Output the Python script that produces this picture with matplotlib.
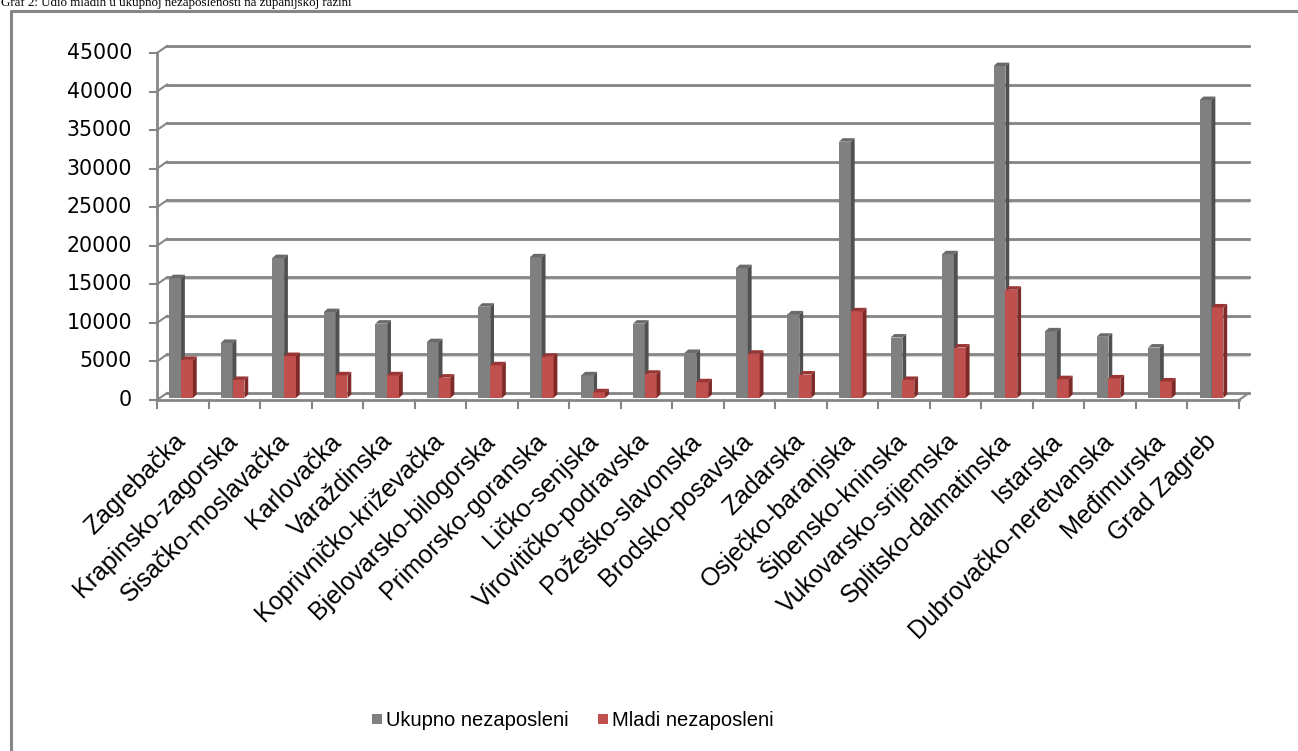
import matplotlib
matplotlib.use("Agg")
import matplotlib.pyplot as plt
from matplotlib.patches import Polygon, Rectangle
from matplotlib.lines import Line2D

categories = ["Zagrebačka", "Krapinsko-zagorska", "Sisačko-moslavačka", "Karlovačka",
              "Varaždinska", "Koprivničko-križevačka", "Bjelovarsko-bilogorska",
              "Primorsko-goranska", "Ličko-senjska", "Virovitičko-podravska",
              "Požeško-slavonska", "Brodsko-posavska", "Zadarska", "Osječko-baranjska",
              "Šibensko-kninska", "Vukovarsko-srijemska", "Splitsko-dalmatinska",
              "Istarska", "Dubrovačko-neretvanska", "Međimurska", "Grad Zagreb"]
ukupno = [15800, 7400, 18400, 11400, 9900, 7500, 12100, 18500, 3200, 9900, 6100,
          17100, 11100, 33500, 8100, 18900, 43300, 8900, 8200, 6800, 38900]
mladi = [5200, 2600, 5700, 3200, 3200, 2900, 4500, 5600, 1000, 3400, 2300,
         6000, 3300, 11500, 2600, 6800, 14300, 2700, 2800, 2400, 12000]
yticks = [0, 5000, 10000, 15000, 20000, 25000, 30000, 35000, 40000, 45000]
series_names = ["Ukupno nezaposleni", "Mladi nezaposleni"]
title = "Graf 2: Udio mladih u ukupnoj nezaposlenosti na županijskoj razini"

W, H = 1298, 751
fig = plt.figure(figsize=(W / 100, H / 100), dpi=100)

def fx(px):
    return px / W

def fy(py):
    return 1 - py / H

# frame border
fig.add_artist(Line2D([fx(11), fx(11), fx(1298)], [fy(760), fy(11), fy(11)],
                      color="#868686", lw=2.2, transform=fig.transFigure))
fig.text(fx(1), fy(6), title, family="Liberation Serif", fontsize=9.4,
         ha="left", va="baseline", color="black")

ax_l, ax_r, ax_t, ax_b = 157, 1239, 53, 400
ax = fig.add_axes([fx(ax_l), fy(ax_b), fx(ax_r - ax_l), (ax_b - ax_t) / H])
n = len(categories)
ax.set_xlim(-0.5, n - 0.5)
ax.set_ylim(0, 45000)
ax.axis("off")

pxx = n / (ax_r - ax_l)          # data units per pixel (x)
pxy = 45000 / (ax_b - ax_t)      # data units per pixel (y)
DX, DY = 10 * pxx, 7 * pxy

grid_c = "#868686"
# back wall gridlines with diagonals and front ticks
for v in yticks:
    ax.plot([-0.5 + DX, n - 0.5 + DX], [v + DY - 1.3 * pxy] * 2, color="#d4d4d4",
            lw=1.5, clip_on=False, zorder=0.5)
    ax.plot([-0.5 + DX, n - 0.5 + DX], [v + DY] * 2, color=grid_c, lw=2.0,
            clip_on=False, zorder=1)
    ax.plot([-0.5, -0.5 + DX], [v, v + DY], color=grid_c, lw=1.5, clip_on=False, zorder=1)
    ax.plot([-0.5 - 7 * pxx, -0.5], [v, v], color=grid_c, lw=1.5, clip_on=False, zorder=1)
    ax.text(-0.5 - 25 * pxx, v, f"{v}", ha="right", va="center",
            family="DejaVu Sans", fontsize=14.8, color="black")
# y axis line
ax.plot([-0.5, -0.5], [0, 45000], color=grid_c, lw=2.0, clip_on=False, zorder=1)
# floor front line and right diagonal
ax.plot([-0.5, n - 0.5], [0, 0], color=grid_c, lw=2.0, clip_on=False, zorder=1)
ax.plot([n - 0.5, n - 0.5 + DX], [0, DY], color=grid_c, lw=1.5, clip_on=False, zorder=1)
# category ticks
for k in range(n + 1):
    ax.plot([k - 0.5, k - 0.5], [0, -8 * pxy], color=grid_c, lw=1.5, clip_on=False, zorder=1)

bw = 0.23
x = list(range(n))
xg = [i - 0.148 for i in x]
xr = [i + 0.082 for i in x]
bdx, bdy = 3.8 * pxx, 3.5 * pxy
base = 2 * pxy

def bars3d(xs, vals, front, side, top, z):
    ax.bar(xs, [v - base for v in vals], width=bw, bottom=base, color=front,
           zorder=z, linewidth=0)
    for xc, v in zip(xs, vals):
        x0, x1 = xc - bw / 2, xc + bw / 2
        ax.add_patch(Polygon([(x1, base), (x1, v), (x1 + bdx, v + bdy), (x1 + bdx, base + bdy)],
                             closed=True, facecolor=side, edgecolor="none", zorder=z))
        ax.add_patch(Polygon([(x0, v), (x1, v), (x1 + bdx, v + bdy), (x0 + bdx, v + bdy)],
                             closed=True, facecolor=top, edgecolor="none", zorder=z))

bars3d(xg, ukupno, "#808080", "#505050", "#6a6a6a", 3)
bars3d(xr, mladi, "#c0504d", "#7e2a28", "#9a3533", 4)

# category labels
for i, c in enumerate(categories):
    ax.text(i + 8 * pxx, -29 * pxy, c, rotation=45, ha="right", va="top",
            family="Liberation Sans", fontsize=18, color="black")

# legend
fig.add_artist(Rectangle((fx(372), fy(724)), fx(10), 10 / H, transform=fig.transFigure,
                         facecolor="#808080", edgecolor="none"))
fig.text(fx(386), fy(720), series_names[0], family="Liberation Sans", fontsize=14.5,
         ha="left", va="center")
fig.add_artist(Rectangle((fx(598), fy(724)), fx(10), 10 / H, transform=fig.transFigure,
                         facecolor="#c0504d", edgecolor="none"))
fig.text(fx(612), fy(720), series_names[1], family="Liberation Sans", fontsize=14.5,
         ha="left", va="center")

fig.savefig("out.png", dpi=100)
